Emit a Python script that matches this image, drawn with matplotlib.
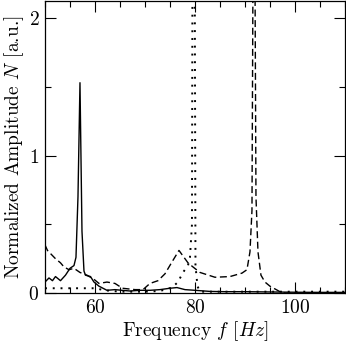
import matplotlib
matplotlib.use("Agg")
import matplotlib.pyplot as plt
from matplotlib.ticker import MultipleLocator

plt.rcParams['font.family'] = 'serif'
plt.rcParams['font.serif'] = ['cmr10']
plt.rcParams['mathtext.fontset'] = 'cm'
plt.rcParams['axes.formatter.use_mathtext'] = True
plt.rcParams['axes.unicode_minus'] = False

# Solid series
f_solid = [50, 50.8, 51.5, 52.1, 53.1, 54.1, 55.0, 55.8, 56.2, 56.6, 57.0, 57.4, 57.8,
           58.1, 59.1, 59.8, 60.8, 62.4, 64, 65.4, 67, 69, 71, 73, 75, 76.4, 78, 80,
           83, 86, 90, 95, 100, 105, 110]
a_solid = [0.08, 0.11, 0.09, 0.12, 0.09, 0.13, 0.18, 0.20, 0.26, 0.70, 1.53, 0.45, 0.16,
           0.13, 0.12, 0.08, 0.05, 0.02, 0.025, 0.02, 0.015, 0.02, 0.02, 0.025, 0.035, 0.04, 0.025, 0.02,
           0.012, 0.01, 0.01, 0.008, 0.006, 0.005, 0.005]

# Dashed series
f_dashed = [50, 50.5, 52.1, 53.1, 53.8, 54.8, 55.8, 57.0, 58.4, 59.8, 60.8, 62.4, 64,
            65.5, 68, 69.6, 71, 72.6, 74, 75.3, 76.8, 77.6, 78.6, 79.6, 81, 84, 87,
            89.4, 90.4, 91.0, 91.4, 91.8, 92.2, 92.6, 93.2, 94, 95, 96, 97, 98, 110]
a_dashed = [0.35, 0.31, 0.25, 0.22, 0.19, 0.17, 0.18, 0.15, 0.13, 0.10, 0.07, 0.08, 0.07,
            0.035, 0.025, 0.025, 0.07, 0.09, 0.14, 0.22, 0.31, 0.27, 0.22, 0.19, 0.15, 0.115, 0.12,
            0.145, 0.17, 0.3, 0.6, 4.0, 0.7, 0.3, 0.13, 0.08, 0.05, 0.03, 0.01, 0.0, 0.0]

# Dotted series
f_dotted = [50, 55, 60, 62, 65, 70, 73, 75.4, 76.6, 77.6, 78.6, 79.0, 79.4, 79.7, 80.1,
            80.5, 81, 84, 90, 100, 110]
a_dotted = [0.035, 0.035, 0.035, 0.02, 0.01, 0.01, 0.015, 0.04, 0.08, 0.15, 0.2, 0.26, 0.5, 6.0, 0.2,
            0.05, 0.01, 0.01, 0.01, 0.01, 0.01]

fig = plt.figure(figsize=(3.46, 3.46), dpi=100)
ax = fig.add_axes([0.130, 0.153, 0.867, 0.844])

ax.plot(f_solid, a_solid, color='black', lw=1.0, ls='-')
ax.plot(f_dashed, a_dashed, color='black', lw=1.0, ls=(0, (5, 2.6)))
ax.plot(f_dotted, a_dotted, color='black', lw=1.4, ls=(0, (1, 3)))

ax.set_xlim(50, 110)
ax.set_ylim(0, 2.124)
ax.xaxis.set_major_locator(MultipleLocator(20))
ax.xaxis.set_minor_locator(MultipleLocator(5))
ax.yaxis.set_major_locator(MultipleLocator(1))
ax.yaxis.set_minor_locator(MultipleLocator(0.5))
ax.tick_params(which='both', direction='in', top=True, right=True, labelsize=14)
ax.tick_params(which='major', length=8, width=0.8, pad=4)
ax.tick_params(which='minor', length=4.5, width=0.8)
for s in ax.spines.values():
    s.set_linewidth(0.9)

ax.set_xlabel(r'Frequency $f$ $[Hz]$', fontsize=14, labelpad=2)
ax.set_ylabel(r'Normalized Amplitude $N$ [a.u.]', fontsize=14, labelpad=2)

fig.savefig('out.png', dpi=100)
